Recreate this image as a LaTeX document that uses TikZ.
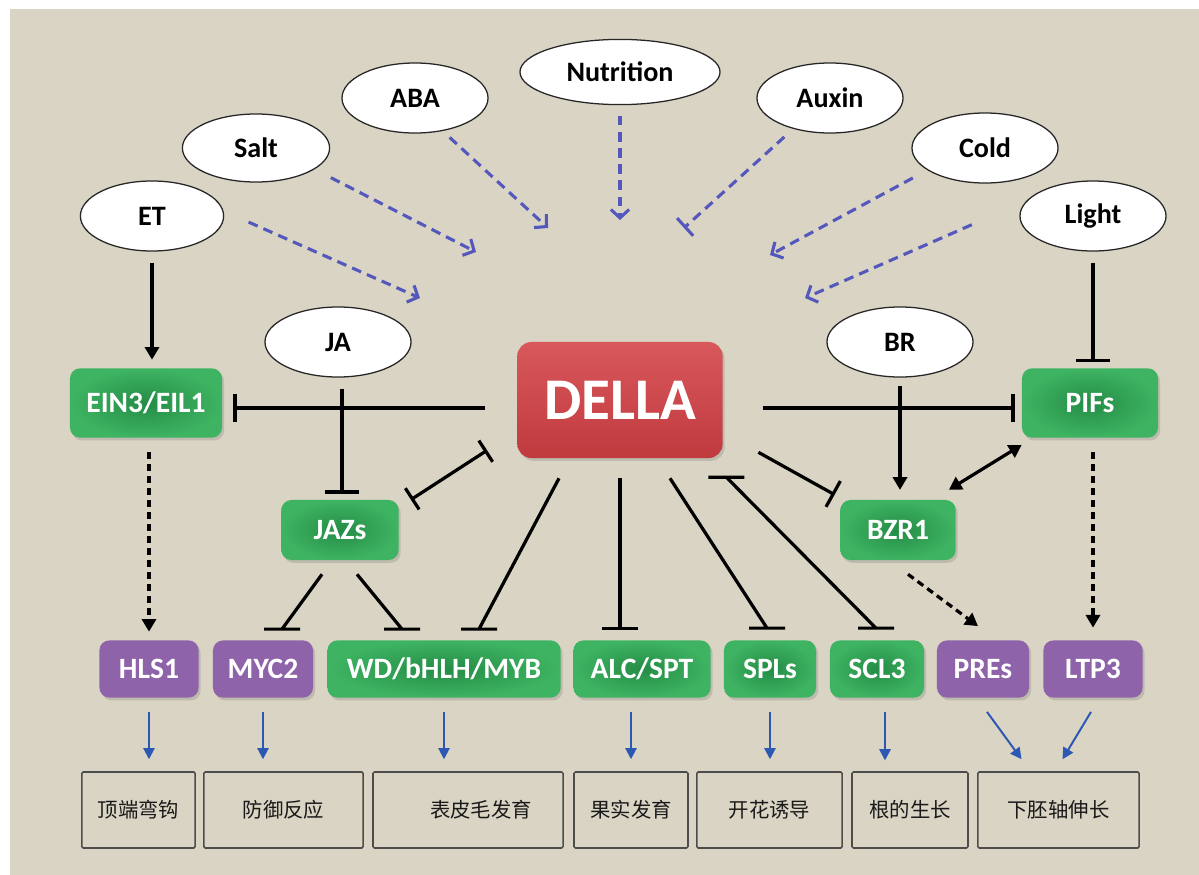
\documentclass[tikz,border=0pt]{standalone}
\usepackage{fontspec}
\setmainfont{Carlito}
\newfontfamily\cjk{Noto Sans CJK SC}
\usetikzlibrary{arrows.meta,shapes.geometric,shadows}
\definecolor{BgClr}{RGB}{217,212,195}
\definecolor{GreenLt}{RGB}{62,180,98}
\definecolor{GreenDk}{RGB}{36,140,70}
\definecolor{PurpleClr}{RGB}{143,99,170}
\definecolor{DellaTop}{RGB}{216,88,92}
\definecolor{DellaBot}{RGB}{192,58,62}
\definecolor{SigBlue}{RGB}{84,88,188}
\definecolor{ArrBlue}{RGB}{44,88,180}

\begin{document}
\begin{tikzpicture}[x=0.025cm,y=-0.025cm,
  signal/.style={ellipse,draw=black!85,line width=0.9pt,fill=white,inner sep=0pt,
    minimum width=3.65cm,minimum height=1.75cm,font=\bfseries\fontsize{20}{24}\selectfont},
  gene/.style={rectangle,rounded corners=0.25cm,inner sep=0pt,text=white,
    font=\bfseries\fontsize{21}{25}\selectfont,
    drop shadow={shadow xshift=1.5pt,shadow yshift=-2pt,opacity=0.3}},
  tfgreen/.style={gene,inner color=GreenDk,outer color=GreenLt},
  tfpurple/.style={gene,fill=PurpleClr},
  row/.style={minimum height=1.43cm},
  effect/.style={draw=black!70,line width=1.1pt,rounded corners=1pt,minimum height=1.9cm,
    font=\cjk\fontsize{14.5}{17}\selectfont,text=black!90},
  blk/.style={line width=2.3pt},
  act/.style={blk,-{Triangle[length=9pt,width=10pt]}},
  inh/.style={blk,-{Bar[width=#1]}},
  inh/.default=24pt,
  blkdash/.style={dash pattern=on 5pt off 3.5pt},
  tbar/.style={insert path={++(-18,0) -- ++(36,0)}},
  sig/.style={draw=SigBlue,line width=2.2pt,dash pattern=on 7pt off 4.5pt,
    -{Straight Barb[length=6pt,width=13pt]}},
  toeffect/.style={draw=ArrBlue,line width=1.4pt,-{Triangle[length=8pt,width=8pt]},
    shorten <=10.3pt,shorten >=8.5pt}]

% background
\useasboundingbox (0,0) rectangle (1199,875);
\fill[white] (0,0) rectangle (1199,875);
\fill[BgClr] (10,9) rectangle (1199,875);

% stimuli
\node[signal,minimum width=3.58cm] (et) at (152,216) {ET};
\node[signal,minimum width=3.68cm,minimum height=1.7cm] (salt) at (256,148) {Salt};
\node[signal] (aba) at (415,98) {ABA};
\node[signal,minimum width=5cm,minimum height=1.63cm] (nut) at (620,72) {Nutrition};
\node[signal] (aux) at (830,98) {Auxin};
\node[signal] (cold) at (985,148) {Cold};
\node[signal] (light) at (1093,216) {Light};
\node[signal] (ja) at (338,342) {JA};
\node[signal] (br) at (900,342) {BR};

% DELLA and regulators
\node[gene,rounded corners=0.35cm,top color=DellaTop,bottom color=DellaBot,
  minimum width=5.13cm,minimum height=2.9cm,font=\bfseries\fontsize{42}{48}\selectfont]
  (della) at (620,400) {DELLA};
\node[tfgreen,minimum width=3.8cm,minimum height=1.73cm] (ein) at (146,403) {EIN3/EIL1};
\node[tfgreen,minimum width=3.4cm,minimum height=1.73cm] (pifs) at (1090,403) {PIFs};
\node[tfgreen,minimum width=2.93cm,minimum height=1.5cm] (jazs) at (340,530) {JAZs};
\node[tfgreen,minimum width=2.88cm,minimum height=1.5cm] (bzr) at (898,530) {BZR1};

% targets
\node[tfpurple,row,minimum width=2.48cm] (hls) at (149,669) {HLS1};
\node[tfpurple,row,minimum width=2.5cm] (myc) at (263,669) {MYC2};
\node[tfgreen,row,minimum width=5.83cm] (wd) at (444,669) {WD/bHLH/MYB};
\node[tfgreen,row,minimum width=3.43cm] (alc) at (642,669) {ALC/SPT};
\node[tfgreen,row,minimum width=2.3cm] (spl) at (770,669) {SPLs};
\node[tfgreen,row,minimum width=2.35cm] (scl) at (877,669) {SCL3};
\node[tfpurple,row,minimum width=2.3cm] (pre) at (983,669) {PREs};
\node[tfpurple,row,minimum width=2.48cm] (ltp) at (1093,669) {LTP3};

% processes
\node[effect,minimum width=2.83cm] (fx1) at (138.5,810) {顶端弯钩};
\node[effect,minimum width=3.98cm] (fx2) at (283.5,810) {防御反应};
\node[effect,minimum width=4.75cm,text width=4.2cm,align=right] (fx3) at (468,810) {表皮毛发育\hspace*{0.5cm}};
\node[effect,minimum width=2.85cm] (fx4) at (631,810) {果实发育};
\node[effect,minimum width=3.63cm] (fx5) at (769.5,810) {开花诱导};
\node[effect,minimum width=2.9cm] (fx6) at (910,810) {根的生长};
\node[effect,minimum width=4.03cm] (fx7) at (1058.5,810) {下胚轴伸长};

% signals towards DELLA
\coordinate (s1) at (420,298);
\coordinate (s2) at (476,252);
\coordinate (s3) at (548,228);
\coordinate (s4) at (620,220);
\coordinate (s5) at (684,228);
\coordinate (s6) at (770,255);
\coordinate (s7) at (805,298);
\draw[sig,shorten <=19.5pt] (et.4) -- (s1);
\draw[sig,shorten <=13pt] (salt.-20) -- (s2);
\draw[sig,shorten <=6.7pt] (aba.-50) -- (s3);
\draw[sig,shorten <=7.4pt] (nut.south) -- (s4);
\draw[sig,-{Bar[width=17pt]},shorten <=8.5pt] (aux.-140) -- (s5);
\draw[sig,shorten <=11.7pt] (cold.-159) -- (s6);
\draw[sig,shorten <=42.5pt] (light.167) -- (s7);

% hormone inputs
\draw[act,shorten <=7.8pt,shorten >=6pt] (et.south) -- (et.south |- ein.north);
\draw[inh,shorten <=7.8pt,shorten >=4.5pt] (light.south) -- (light.south |- pifs.north);
\draw[inh] ([shift={(4,11)}]ja.south) -- ([shift={(2,-6)}]jazs.north);
\draw[act,shorten <=5.7pt,shorten >=7pt] (br.south) -- (br.south |- bzr.north);

% DELLA interactions
\draw[inh=20pt] ([shift={(-32,8)}]della.west) -- ([shift={(11,5)}]ein.east);
\draw[inh=20pt] ([shift={(40,8)}]della.east) -- ([shift={(-7,5)}]pifs.west);
\draw[blk,{Bar[width=18pt]}-{Bar[width=18pt]}] ([shift={(-30,-8)}]della.south west) -- ([shift={(12,0)}]jazs.north east);
\draw[inh=21pt] ([shift={(35.5,-6)}]della.south east) -- ([shift={(-5.5,-5)}]bzr.north west);
\draw[blk,{Triangle[length=9pt,width=10pt]}-{Triangle[length=9pt,width=10pt]}] ([shift={(-7,-10)}]bzr.north east) -- ([shift={(0,7)}]pifs.south west);

% downstream
\draw[act,blkdash,shorten <=10.3pt,shorten >=6pt] (hls.north |- ein.south) -- (hls.north);
\draw[act,blkdash,shorten <=10.3pt,shorten >=8.9pt] (ltp.north |- pifs.south) -- (ltp.north);
\draw[act,blkdash] ([shift={(10,14)}]bzr.south) -- ([shift={(-5,-14)}]pre.north);
\draw[blk] ([shift={(-18,14)}]jazs.south) -- ([shift={(19,-11)}]myc.north) [tbar];
\draw[blk] ([shift={(17,14)}]jazs.south) -- ([shift={(-42,-11)}]wd.north) [tbar];
\draw[blk] ([shift={(-61,20)}]della.south) -- ([shift={(35,-11)}]wd.north) [tbar];
\draw[blk] ([shift={(0,20)}]della.south) -- ([shift={(-22,-12)}]alc.north) [tbar];
\draw[blk] ([shift={(50,20)}]della.south) -- ([shift={(-3,-12)}]spl.north) [tbar];
\draw[blk] ([shift={(3.5,19)}]della.south east) [tbar]
  ([shift={(3.5,19)}]della.south east) -- ([shift={(-1,-12)}]scl.north) [tbar];

% processes
\draw[toeffect] (hls.south) -- (hls.south |- fx1.north);
\draw[toeffect] (myc.south) -- (myc.south |- fx2.north);
\draw[toeffect] (wd.south) -- (wd.south |- fx3.north);
\draw[toeffect] (fx4.north |- alc.south) -- (fx4.north);
\draw[toeffect] (spl.south) -- (spl.south |- fx5.north);
\draw[toeffect] ([xshift=0.2cm]scl.south) -- ++(0,74.5);
\draw[toeffect,shorten <=0pt,shorten >=0pt] ([shift={(4,14)}]pre.south) -- ([shift={(-37,-12)}]fx7.north);
\draw[toeffect,shorten <=0pt,shorten >=0pt] ([shift={(-2,14)}]ltp.south) -- ([shift={(4,-12)}]fx7.north);

\end{tikzpicture}
\end{document}
